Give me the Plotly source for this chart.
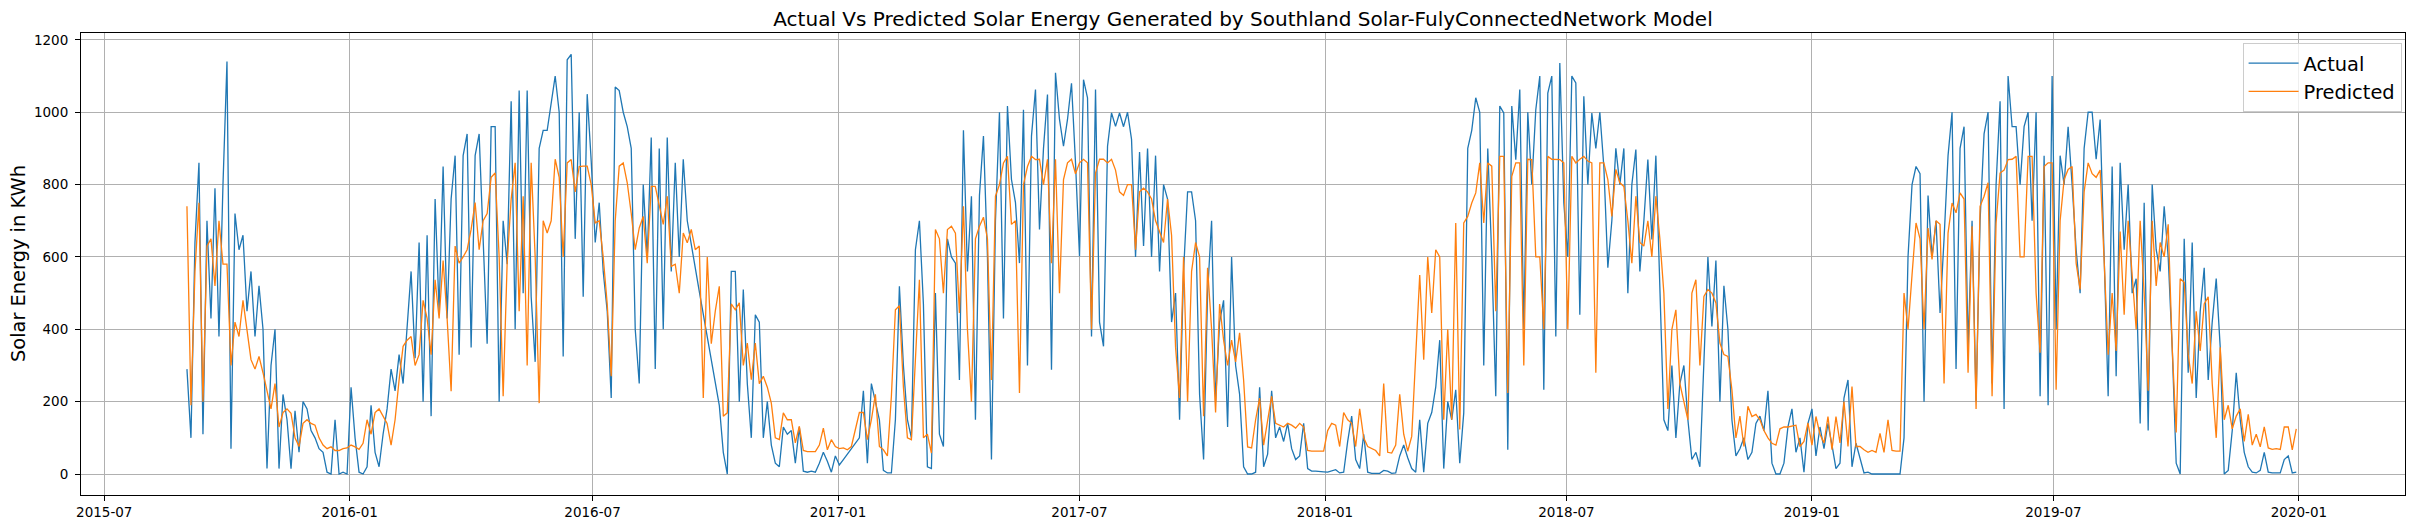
import pandas as pd
import plotly.graph_objects as go

# ---------------- data (one value every 3 days) ----------------
START = "2015-09-01"
STEP = "3D"

actual_2015_09 = [290,100,640,860,110,700,430,790,380,800,1140,70,720,620,660,450,560,380,520,400,
                  15,300,400,15,220,150,15,175,60,200,180,120,100,70,60,5,0,150,0,5,
                  0,240,100,5,0,20,190,60,20,110,180,290,230,330,250,420,560,320,640,200,
                  660,160,760,450,850,430,760,880,330,880,940,350,880,940]
actual_2016_04 = [620,360,960,960,200,700,580,1030,400,1060,500,1060,490,310,900,950,950,1025,1100,1000,
                  325,1145,1160,650,1000,490,1050,865,640,750,560,450,210,1070,1060,1000,960,900,400,250,
                  800,600,930,290,900,400,930,560,860,600,870,700,630,570,505,440,380,315,250,190,
                  60,0,560,560,200,510,250,100,440,420,100,200,80,30,20,130,110,120,30,130]
actual_2016_12 = [8,5,8,5,30,60,35,5,50,25,40,55,70,85,100,
                  230,30,250,200,150,10,3,3,150,519,300,150,100,620,700,
                  470,20,15,500,110,76,650,600,583,260,950,560,768,150,770,
                  934,600,40,700,1000,430,1017,814,750,583,1007,300,934,1063,676,
                  900,1049,288,1109,980,906,980,1080,860,602,1090,1040,380,1063,420,353,906,998,961,998]
actual_2017_08 = [960,1000,925,600,890,630,900,600,880,560,800,760,420,500,150,560,780,780,700,220,
                  40,500,700,200,420,480,130,600,300,220,20,
                  0,0,5,240,20,55,230,100,130,90,140,70,40,50,140,15,8,8,6,6,
                  5,8,12,3,5,90,160,40,15,110,5,2,2,2,10,8,2,3,50,80,45,15,5,150,5,140,170,240,370]
actual_2018_03 = [15,200,150,233,30,169,900,950,1040,1000,300,900,600,215,1017,998,67,1017,869,1063,
                  400,1000,800,1007,1100,233,1053,1100,380,1136,750,600,1100,1081,440,1044,800,998,900,1000,
                  850,570,700,900,800,900,500,800,897,560,700,869,648,880,500,150,120,300,100,250,
                  300,150,40,60,20,300,600,408,590,200,520,400,150,50,70,100,40,60,140,160]
actual_2018_11 = [120,230,30,0,0,30,130,180,60,100,5,140,180,50,130,70,140,80,15,30,
                  210,260,20,85,40,3,5,0,0,0,0,0,0,0,0,
                  100,600,800,850,830,200,770,600,700,445,650,880,1000,290,900,960,350,700,200,700,
                  940,1000,250,800,1030,180,1100,960,960,800,960,1000,700,1000,215,880,190,1100,400,880,
                  800,960,800,620,500]
actual_2019_07 = [900,1000,1000,870,980,600,215,850,270,860,620,800,500,540,140,750,120,800,620,560,
                  740,600,350,30,0,650,280,640,210,450,570,260,420,540,350,0,10,120,280,150,
                  60,20,5,3,10,60,5,3,3,3,40,50,3,5]

predicted_2015_09 = [740,190,560,750,200,630,650,520,700,580,580,
                     300,420,380,480,400,316,290,325,280,233,180,250,130,170,180,168,100,76,140,150,
                     140,135,100,80,70,75,65,65,70,72,80,75,68,85,150,110,170,180,160,140,
                     80,150,260,353,370,380,300,330,480,430,330,537,430,590,430,229,630,583,600,620,676,750,620]
predicted_2016_04 = [700,720,820,832,600,215,583,760,860,450,768,300,860,600,196,700,666,700,870,820,
                     600,860,869,780,850,851,851,800,694,700,600,470,270,700,851,860,805,720,620,680,
                     712,583,795,795,740,690,768,574,580,500,666,639,676,620,630,210,600,360,450,519,
                     160,169,470,454,473,300,362,261,362,250,270,240,196,100,95,169,150,150,86,132]
predicted_2016_12 = [65,62,62,62,80,127,67,95,76,70,72,67,76,127,170,170,95,150,220,76,
                     67,50,215,454,465,240,100,95,300,537,100,110,58,676,650,500,676,685,666,445,
                     740,400,200,650,685,710,650,
                     260,768,800,860,878,690,700,224,800,850,878,869,870,800,870,583,870,500,814,860,
                     870,830,860,870,860,400,832,870,870,860,870,840,780]
predicted_2017_08 = [770,800,800,620,780,790,780,760,700,670,640,760,660,350,210,600,200,560,640,600,
                     160,570,400,170,470,370,300,370,310,390,260,75,72,150,210,80,150,215,140,135,
                     130,140,135,127,140,130,65,63,63,63,63,120,140,135,76,170,150,140,76,180,
                     100,76,70,65,50,250,60,58,80,220,110,63,104,310,550,316,600,445,620,600]
predicted_2018_03 = [150,400,150,694,123,694,712,749,777,860,694,860,851,450,878,878,224,823,860,860,
                     300,870,869,600,600,400,878,870,869,869,860,400,878,860,870,878,865,860,280,860,
                     860,814,712,842,805,795,700,583,768,640,630,700,600,768,650,500,180,400,454,250,
                     200,150,500,537,300,491,510,500,473,362,330,325,233,100,160,76,187,159,165,150]
predicted_2018_11 = [120,100,85,80,125,130,130,132,135,76,90,141,80,159,110,86,159,67,159,86,
                     200,76,242,76,76,67,60,65,60,112,60,150,65,63,63,
                     500,400,550,694,650,400,680,593,700,690,250,666,749,722,777,760,280,685,180,740,
                     768,805,215,694,832,840,869,870,878,600,600,878,878,500,335,850,860,860,233,700,
                     814,842,850,583,510]
predicted_2019_07 = [780,860,830,820,840,590,330,500,340,670,440,700,560,400,700,500,230,700,520,640,
                     600,690,350,115,540,530,330,250,450,340,470,490,250,100,350,150,190,125,160,180,
                     90,165,80,110,75,130,72,68,70,68,130,130,67,125]

actual = (actual_2015_09 + actual_2016_04 + actual_2016_12 + actual_2017_08
          + actual_2018_03 + actual_2018_11 + actual_2019_07)
predicted = (predicted_2015_09 + predicted_2016_04 + predicted_2016_12 + predicted_2017_08
             + predicted_2018_03 + predicted_2018_11 + predicted_2019_07)

tick_dates = ["2015-07-01", "2016-01-01", "2016-07-01", "2017-01-01", "2017-07-01",
              "2018-01-01", "2018-07-01", "2019-01-01", "2019-07-01", "2020-01-01"]
tick_labels = ["2015-07", "2016-01", "2016-07", "2017-01", "2017-07",
               "2018-01", "2018-07", "2019-01", "2019-07", "2020-01"]
y_ticks = [0, 200, 400, 600, 800, 1000, 1200]

TITLE = "Actual Vs Predicted Solar Energy Generated by Southland Solar-FulyConnectedNetwork Model"
YLABEL = "Solar Energy in KWh"

dates_actual = pd.date_range(START, periods=len(actual), freq=STEP)
dates_pred = pd.date_range(START, periods=len(predicted), freq=STEP)

# ---------------- figure ----------------
# The page body keeps its default 8px margin, so the figure is sized to sit
# inside the 2414x529 window with that offset.
W, H = 2398, 513
ML, MR, MT, MB = 72.5, 1, 25.3, 25.7
FONT = "DejaVu Sans"
TICK_SIZE = 13.5

fig = go.Figure()
fig.add_trace(go.Scatter(x=dates_actual, y=actual, mode="lines", name="Actual",
                         legendgroup="a", line=dict(color="#1f77b4", width=1.3)))
fig.add_trace(go.Scatter(x=dates_pred, y=predicted, mode="lines", name="Predicted",
                         legendgroup="p", line=dict(color="#ff7f0e", width=1.3)))

plot_w = W - ML - MR
plot_h = H - MT - MB

fig.update_layout(
    width=W, height=H,
    margin=dict(l=ML, r=MR, t=MT, b=MB, pad=0, autoexpand=False),
    paper_bgcolor="white", plot_bgcolor="white",
    font=dict(family=FONT, color="black", size=14),
    title=dict(text=TITLE, x=0.5, xref="paper", xanchor="center",
               y=1 - 10.7 / H, yref="container", yanchor="middle",
               font=dict(family=FONT, size=20, color="black")),
    showlegend=True,
    legend=dict(x=1 - 3.4 / plot_w, xanchor="right", y=1 - 10 / plot_h, yanchor="top",
                bordercolor="#cccccc", borderwidth=1, bgcolor="rgba(255,255,255,0.8)",
                itemwidth=50, tracegroupgap=0,
                font=dict(family=FONT, size=19.4, color="black")),
)

fig.update_xaxes(type="date", range=["2015-06-13 14:00", "2020-03-20 12:00"],
                 tickmode="array", tickvals=tick_dates, ticktext=tick_labels,
                 ticks="outside", ticklen=5, tickwidth=1, tickcolor="black",
                 showline=True, linecolor="black", linewidth=1, mirror=True,
                 showgrid=True, gridcolor="#b0b0b0", gridwidth=1, zeroline=False,
                 tickfont=dict(family=FONT, size=TICK_SIZE, color="black"), automargin=False)
fig.update_yaxes(range=[-58, 1219], tickmode="array", tickvals=y_ticks,
                 ticks="outside", ticklen=5, tickwidth=1, tickcolor="black",
                 ticklabelstandoff=4,
                 showline=True, linecolor="black", linewidth=1, mirror=True,
                 showgrid=True, gridcolor="#b0b0b0", gridwidth=1, zeroline=False,
                 tickfont=dict(family=FONT, size=TICK_SIZE, color="black"), automargin=False)

fig.add_annotation(text=YLABEL, textangle=-90, xref="paper", yref="paper",
                   x=(9.5 - ML) / plot_w, y=0.5, xanchor="center", yanchor="middle",
                   showarrow=False, font=dict(family=FONT, size=19.4, color="black"))

fig.write_html("out.html")
